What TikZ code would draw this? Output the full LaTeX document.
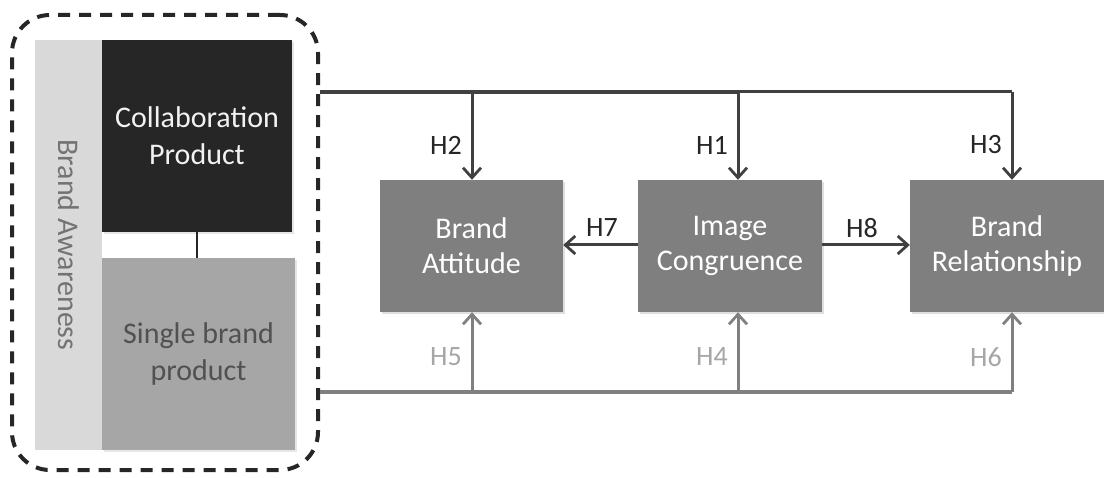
\documentclass[tikz,border=0pt]{standalone}
\usepackage{fontspec}
\setmainfont{Carlito}
\usetikzlibrary{arrows.meta,shadows}
\definecolor{boxgray}{HTML}{7F7F7F}
\definecolor{darkline}{HTML}{404040}
\definecolor{lightline}{HTML}{808080}
\definecolor{collab}{HTML}{262626}
\definecolor{single}{HTML}{A6A6A6}
\definecolor{strip}{HTML}{D9D9D9}
\tikzset{
  x=1pt, y=-1pt,
  every node/.style={inner sep=0pt, font=\fontsize{30}{35}\selectfont},
  construct/.style={fill=boxgray, text=white, align=center,
    minimum height=132pt,
    drop shadow={opacity=0.25, shadow xshift=2pt, shadow yshift=-2pt}},
  hlabel/.style={font=\fontsize{28}{30}\selectfont, text=collab},
  hlabelgray/.style={font=\fontsize{28}{30}\selectfont, text=single},
  toparrow/.style={draw=darkline, line width=3pt,
    -{Straight Barb[length=10pt,width=18pt,line width=2.8pt]}},
  botarrow/.style={draw=lightline, line width=3pt,
    -{Straight Barb[length=10pt,width=18pt,line width=2.8pt]}},
}
\begin{document}
\begin{tikzpicture}
\useasboundingbox (0,0) rectangle (1104,478);

% product group
\node[fill=strip, minimum width=67pt, minimum height=410pt] (aw) at (68.5,245) {};
\node[rotate=-90, text=lightline!90!black, font=\fontsize{30}{34}\selectfont] (awtext) at (aw.center) {Brand Awareness};
\node[fill=collab, text=white!95!black, align=center, minimum width=190pt, minimum height=192pt,
  drop shadow={opacity=0.2, shadow xshift=2pt, shadow yshift=-2pt}, font=\fontsize{30}{37}\selectfont] (cp) at (197,136) {Collaboration\\Product};
\node[fill=single, text=collab!80!white, align=center, minimum width=193pt, minimum height=192pt,
  drop shadow={opacity=0.2, shadow xshift=2pt, shadow yshift=-2pt}, font=\fontsize{30}{37}\selectfont] (sp) at (198.5,354) {Single brand\\product};
\draw[collab, line width=2.5pt] (cp.south) -- (cp.south |- sp.north);
\node[draw=collab, line width=4pt, dash pattern=on 12pt off 9pt, rounded corners=38pt,
  minimum width=306pt, minimum height=455pt] (grp) at (165,242.5) {};

% constructs
\node[construct, minimum width=183pt] (ba) at (471.5,246) {Brand\\Attitude};
\node[construct, minimum width=184pt] (ic) at (730,246) {Image\\Congruence};
\node[construct, minimum width=194pt] (br) at (1007,246) {Brand\\Relationship};

% top bus (collaboration product)
\coordinate (t2) at (472,92);
\coordinate (t1) at (738,92);
\coordinate (t3) at (1012,92);
\draw[darkline, line width=4pt] (grp.east |- t2) -- (t1);
\draw[darkline, line width=3pt] (t1) -- (t3);
\draw[toparrow] (t2) -- (t2 |- ba.north);
\draw[toparrow] (t1) -- (t1 |- ic.north);
\draw[toparrow] (t3) -- (t3 |- br.north);

% bottom bus (single brand product)
\coordinate (b5) at (472,392);
\coordinate (b4) at (738,392);
\coordinate (b6) at (1012,392);
\draw[lightline, line width=4.5pt] (grp.east |- b5) -- (b4);
\draw[lightline, line width=3.5pt] (b4) -- (b6);
\draw[botarrow] (b5) -- (b5 |- ba.south);
\draw[botarrow] (b4) -- (b4 |- ic.south);
\draw[botarrow] (b6) -- (b6 |- br.south);

% links between constructs
\draw[toparrow] (ic.west |- 0,245) -- (ba.east |- 0,245);
\draw[toparrow] (ic.east |- 0,245) -- (br.west |- 0,245);

% hypothesis labels
\node[hlabel] (h2) at (446,145) {H2};
\node[hlabel] (h1) at (712,145) {H1};
\node[hlabel] (h3) at (986,145) {H3};
\node[hlabel] (h7) at (602,228) {H7};
\node[hlabel] (h8) at (862,228) {H8};
\node[hlabelgray] (h5) at (446,357) {H5};
\node[hlabelgray] (h4) at (712,357) {H4};
\node[hlabelgray] (h6) at (986,357) {H6};
\end{tikzpicture}
\end{document}
